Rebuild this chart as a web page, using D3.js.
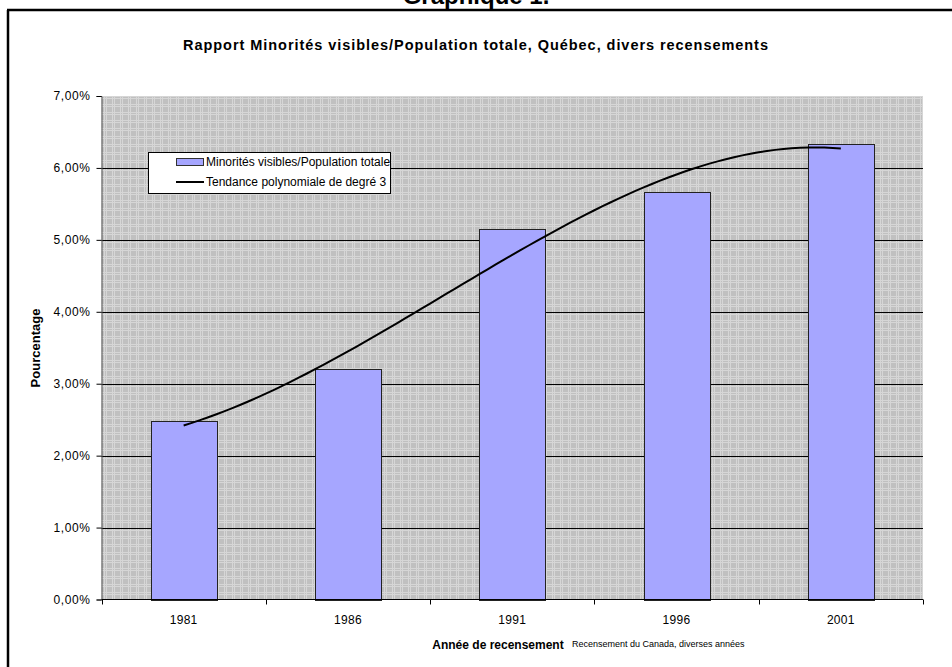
<!DOCTYPE html>
<html>
<head>
<meta charset="utf-8">
<script src="https://cdn.jsdelivr.net/npm/d3@7"></script>
<style>
  html, body { margin: 0; padding: 0; background: #fff; }
  svg { display: block; font-family: Arial, "Liberation Sans", sans-serif; }
</style>
</head>
<body>
<svg id="chart" width="952" height="667"></svg>
<script>
// Census years and the share of visible minorities in Québec's population
const years = ["1981", "1986", "1991", "1996", "2001"];
const shares = [0.0248, 0.0321, 0.0515, 0.0567, 0.0633];
const yTicks = [0, 0.01, 0.02, 0.03, 0.04, 0.05, 0.06, 0.07];

const svg = d3.select("#chart");
const W = 952, H = 667;
const plot = { left: 101.5, right: 923, top: 96, bottom: 599.5 };

// Frame lines (top rule and left edge)
svg.append("line").attr("x1", 7).attr("x2", W).attr("y1", 10).attr("y2", 10)
  .attr("stroke", "#000").attr("stroke-width", 2.5);
svg.append("line").attr("x1", 8).attr("x2", 8).attr("y1", 10).attr("y2", H)
  .attr("stroke", "#000").attr("stroke-width", 2.5);

// Document heading, partly above the page
svg.append("text").attr("x", 476).attr("y", 4).attr("text-anchor", "middle")
  .attr("font-size", 24).attr("font-weight", "bold").text("Graphique 1.");

// Chart title
svg.append("text").attr("x", 476).attr("y", 50).attr("text-anchor", "middle")
  .attr("font-size", 14.5).attr("font-weight", "bold").attr("letter-spacing", 0.95)
  .text("Rapport Minorités visibles/Population totale, Québec, divers recensements");

// Patterned plot background
const defs = svg.append("defs");
const pat = defs.append("pattern").attr("id", "bgpat").attr("patternUnits", "userSpaceOnUse")
  .attr("width", 8).attr("height", 8);
pat.append("rect").attr("width", 8).attr("height", 8).attr("fill", "#c0c0c0");
[0, 2].forEach(o => {
  pat.append("rect").attr("x", o).attr("y", 0).attr("width", 1).attr("height", 8).attr("fill", "#d6d6d6");
  pat.append("rect").attr("x", 0).attr("y", o).attr("width", 8).attr("height", 1).attr("fill", "#d6d6d6");
});

const x = d3.scaleBand().domain(years).range([plot.left, plot.right]).paddingInner(0.6).paddingOuter(0.3);
const xOuter = d3.scaleBand().domain(years).range([plot.left, plot.right]);
const y = d3.scaleLinear().domain([0, 0.07]).range([plot.bottom, plot.top]);

svg.append("rect").attr("x", plot.left).attr("y", plot.top)
  .attr("width", plot.right - plot.left).attr("height", plot.bottom - plot.top)
  .attr("fill", "url(#bgpat)");

// Horizontal gridlines
svg.append("g").selectAll("line").data(yTicks.filter(d => d > 0 && d < 0.07)).join("line")
  .attr("x1", plot.left).attr("x2", plot.right)
  .attr("y1", d => Math.round(y(d)) + 0.5).attr("y2", d => Math.round(y(d)) + 0.5)
  .attr("stroke", "#000").attr("stroke-width", 1);

// Bars
svg.append("g").selectAll("rect").data(years).join("rect")
  .attr("x", d => Math.round(x(d)) + 0.5)
  .attr("y", (d, i) => Math.round(y(shares[i])) + 0.5)
  .attr("width", Math.round(x.bandwidth()))
  .attr("height", (d, i) => Math.round(y(0)) - Math.round(y(shares[i])))
  .attr("fill", "#a6a6ff").attr("stroke", "#222").attr("stroke-width", 1);

// Degree-3 least-squares polynomial trend over the bar values
function polyfit(xs, ys, deg) {
  const n = deg + 1;
  const A = Array.from({ length: n }, () => new Array(n + 1).fill(0));
  for (let r = 0; r < n; r++) {
    for (let c = 0; c < n; c++) A[r][c] = d3.sum(xs, v => Math.pow(v, r + c));
    A[r][n] = d3.sum(xs, (v, k) => Math.pow(v, r) * ys[k]);
  }
  for (let p = 0; p < n; p++) {
    let best = p;
    for (let r = p + 1; r < n; r++) if (Math.abs(A[r][p]) > Math.abs(A[best][p])) best = r;
    [A[p], A[best]] = [A[best], A[p]];
    for (let r = 0; r < n; r++) {
      if (r === p) continue;
      const f = A[r][p] / A[p][p];
      for (let c = p; c <= n; c++) A[r][c] -= f * A[p][c];
    }
  }
  return A.map((row, i) => row[n] / row[i]);
}
const idx = years.map((d, i) => i + 1);
const coef = polyfit(idx, shares, 3);
const trend = t => coef.reduce((s, c, k) => s + c * Math.pow(t, k), 0);
const step = xOuter.step();
const cx = t => xOuter(years[0]) + step / 2 + (t - 1) * step;
const trendPts = d3.range(1, 5.0001, 0.05).map(t => [cx(t), y(trend(t))]);
svg.append("path").attr("d", d3.line()(trendPts))
  .attr("fill", "none").attr("stroke", "#000").attr("stroke-width", 2);

// Y axis
const yAxis = d3.axisLeft(y).tickValues(yTicks).tickSize(5).tickPadding(6)
  .tickFormat(d => d3.format(".2f")(d * 100).replace(".", ",") + "%");
const gy = svg.append("g").attr("transform", `translate(${plot.left},0)`).call(yAxis);
gy.select(".domain").attr("stroke", "#555");
gy.selectAll(".tick line").attr("stroke", "#000");
gy.selectAll("text").attr("font-size", 12).attr("letter-spacing", 0.6)
  .attr("font-family", "Arial, 'Liberation Sans', sans-serif").attr("fill", "#000");

// X axis with ticks between categories
svg.append("line").attr("x1", plot.left).attr("x2", plot.right)
  .attr("y1", plot.bottom).attr("y2", plot.bottom).attr("stroke", "#000");
const bounds = years.map(d => xOuter(d)).concat([plot.right]);
svg.append("g").selectAll("line").data(bounds).join("line")
  .attr("x1", d => Math.round(d) + 0.5).attr("x2", d => Math.round(d) + 0.5)
  .attr("y1", plot.bottom).attr("y2", plot.bottom + 5).attr("stroke", "#000");
svg.append("g").selectAll("text").data(years).join("text")
  .attr("x", d => xOuter(d) + step / 2).attr("y", 624).attr("text-anchor", "middle")
  .attr("font-size", 12).attr("letter-spacing", 0.3).text(d => d);

// Axis titles and source note
svg.append("text").attr("transform", "translate(40,348) rotate(-90)").attr("text-anchor", "middle")
  .attr("font-size", 13).attr("font-weight", "bold").text("Pourcentage");
svg.append("text").attr("x", 498).attr("y", 649).attr("text-anchor", "middle")
  .attr("font-size", 12).attr("font-weight", "bold").text("Année de recensement");
svg.append("text").attr("x", 572).attr("y", 647)
  .attr("font-size", 9).text("Recensement du Canada, diverses années");

// Legend
const lg = svg.append("g");
lg.append("rect").attr("x", 148.5).attr("y", 152.5).attr("width", 242).attr("height", 41)
  .attr("fill", "#fff").attr("stroke", "#000");
lg.append("rect").attr("x", 176.5).attr("y", 158.5).attr("width", 27).attr("height", 7)
  .attr("fill", "#a6a6ff").attr("stroke", "#333");
lg.append("line").attr("x1", 176).attr("x2", 204).attr("y1", 182).attr("y2", 182)
  .attr("stroke", "#000").attr("stroke-width", 2);
lg.append("text").attr("x", 206).attr("y", 166).attr("font-size", 12)
  .text("Minorités visibles/Population totale");
lg.append("text").attr("x", 206).attr("y", 186).attr("font-size", 12)
  .text("Tendance polynomiale de degré 3");
</script>
</body>
</html>
